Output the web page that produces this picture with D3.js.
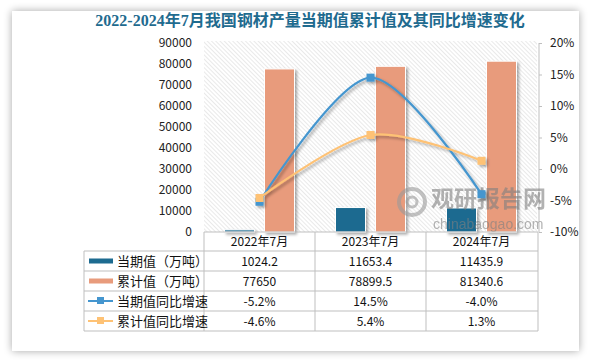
<!DOCTYPE html>
<html><head><meta charset="utf-8">
<script src="https://cdn.jsdelivr.net/npm/d3@7/dist/d3.min.js"></script>
<style>
html,body{margin:0;padding:0;background:#fff;}
svg{display:block;}
</style></head>
<body>
<svg id="chart" width="590" height="361"></svg>
<script>
const categories = ["2022年7月", "2023年7月", "2024年7月"];
const currentValues = [1024.2, 11653.4, 11435.9];
const cumulativeValues = [77650, 78899.5, 81340.6];
const currentGrowth = [-5.2, 14.5, -4.0];
const cumulativeGrowth = [-4.6, 5.4, 1.3];
const currentLabels = ["1024.2", "11653.4", "11435.9"];
const cumulativeLabels = ["77650", "78899.5", "81340.6"];
const currentGrowthLabels = ["-5.2%", "14.5%", "-4.0%"];
const cumulativeGrowthLabels = ["-4.6%", "5.4%", "1.3%"];
const leftTicks = [0, 10000, 20000, 30000, 40000, 50000, 60000, 70000, 80000, 90000];
const rightTicks = [-10, -5, 0, 5, 10, 15, 20];
const seriesNames = ["当期值（万吨）", "累计值（万吨）", "当期值同比增速", "累计值同比增速"];
const title = "2022-2024年7月我国钢材产量当期值累计值及其同比增速变化";

const C_DARK = "#1d6b90", C_ORANGE = "#e89b7c", C_BLUE = "#4596cf", C_YEL = "#fec275";
const FONT = "'Noto Sans CJK SC','Noto Sans',sans-serif";

const svg = d3.select("#chart");
const defs = svg.append("defs");

// card shadow
const cf = defs.append("filter").attr("id","cardShadow").attr("x","-10%").attr("y","-10%").attr("width","120%").attr("height","120%");
cf.append("feGaussianBlur").attr("in","SourceAlpha").attr("stdDeviation",4);
cf.append("feOffset").attr("dx",0).attr("dy",0).attr("result","b");
cf.append("feComponentTransfer").append("feFuncA").attr("type","linear").attr("slope",0.35);
const cfm = cf.append("feMerge"); cfm.append("feMergeNode"); cfm.append("feMergeNode").attr("in","SourceGraphic");

// mark shadow
const sf = defs.append("filter").attr("id","markShadow").attr("x","-30%").attr("y","-30%").attr("width","160%").attr("height","160%");
sf.append("feGaussianBlur").attr("in","SourceAlpha").attr("stdDeviation",1.8).attr("result","blur");
sf.append("feOffset").attr("in","blur").attr("dx",2).attr("dy",2).attr("result","off");
sf.append("feComponentTransfer").attr("in","off").attr("result","off2").append("feFuncA").attr("type","linear").attr("slope",0.35);
const sfm = sf.append("feMerge"); sfm.append("feMergeNode").attr("in","off2"); sfm.append("feMergeNode").attr("in","SourceGraphic");

// hatch pattern
const pat = defs.append("pattern").attr("id","hatch").attr("patternUnits","userSpaceOnUse")
  .attr("width",3).attr("height",3).attr("patternTransform","rotate(-45)");
pat.append("rect").attr("width",3).attr("height",3).attr("fill","#fff");
pat.append("line").attr("x1",0).attr("y1",0).attr("x2",0).attr("y2",3).attr("stroke","#d4d4d4").attr("stroke-width",1);

// card
svg.append("rect").attr("x",12).attr("y",11).attr("width",567).attr("height",340).attr("fill","#fff").attr("filter","url(#cardShadow)");

// title
svg.append("text").attr("x",310).attr("y",26).attr("text-anchor","middle")
  .attr("font-family","'Liberation Serif','Noto Sans CJK SC',serif").attr("font-weight","bold")
  .attr("font-size",16).attr("fill","#1f6b8f").text(title);

const plotL = 204, plotR = 537, plotT = 43, plotB = 232;
const x = d3.scaleBand().domain(categories).range([plotL, plotR]);
const inner = d3.scaleBand().domain(["cur","cum"]).range([0,70]).paddingInner(0.25);
const yL = d3.scaleLinear().domain([0, 90000]).range([plotB, plotT]);
const yR = d3.scaleLinear().domain([-10, 20]).range([plotB, plotT]);

// hatched plot area
svg.append("rect").attr("x",plotL).attr("y",plotT-2).attr("width",plotR-plotL).attr("height",plotB-plotT+2).attr("fill","url(#hatch)");

// left axis
const axL = svg.append("g").attr("transform",`translate(${plotL},0)`)
  .call(d3.axisLeft(yL).tickValues(leftTicks).tickSize(0).tickPadding(12).tickFormat(d3.format("d")));
axL.select(".domain").remove();
axL.selectAll("text").attr("font-family",FONT).attr("font-size",12).attr("fill","#222");

// right axis
const axR = svg.append("g").attr("transform",`translate(${plotR+2},0)`)
  .call(d3.axisRight(yR).tickValues(rightTicks).tickSize(3).tickPadding(8).tickFormat(d => d + "%"));
axR.select(".domain").attr("stroke","#bfbfbf").attr("d",`M0,${plotT}V${plotB}`);
axR.selectAll(".tick line").attr("stroke","#bfbfbf");
axR.selectAll("text").attr("font-family",FONT).attr("font-size",12).attr("fill","#222");

// bars
const gx = c => x(c) + (x.bandwidth() - 70) / 2;
const barG = svg.append("g").attr("filter","url(#markShadow)");
barG.selectAll(".cur").data(categories).join("rect")
  .attr("x", (c) => gx(c) + inner("cur")).attr("width", inner.bandwidth())
  .attr("y", (c,i) => yL(currentValues[i])).attr("height", (c,i) => plotB - yL(currentValues[i]))
  .attr("fill", C_DARK).attr("stroke","#fff").attr("stroke-width",1);
barG.selectAll(".cum").data(categories).join("rect")
  .attr("x", (c) => gx(c) + inner("cum")).attr("width", inner.bandwidth())
  .attr("y", (c,i) => yL(cumulativeValues[i])).attr("height", (c,i) => plotB - yL(cumulativeValues[i]))
  .attr("fill", C_ORANGE).attr("stroke","#fff").attr("stroke-width",1);

// watermark
const wm = svg.append("g").attr("opacity",0.6);
wm.append("circle").attr("cx",412).attr("cy",202).attr("r",13).attr("fill","none").attr("stroke","#9a9a9a").attr("stroke-width",4);
wm.append("circle").attr("cx",412).attr("cy",202).attr("r",5).attr("fill","none").attr("stroke","#9a9a9a").attr("stroke-width",3);
wm.append("text").attr("x",431).attr("y",207).attr("font-family",FONT).attr("font-weight","bold").attr("font-size",23).attr("fill","#808080").text("观研报告网");
wm.append("text").attr("x",433).attr("y",229).attr("font-family","'Liberation Sans',sans-serif").attr("font-size",14).attr("fill","#808080").text("chinabaogao.com");

// lines
const cx = c => x(c) + x.bandwidth()/2;
const lineGen = (arr) => d3.line().x((c)=>cx(c)).y((c,i)=>yR(arr[i])).curve(d3.curveCardinal.tension(0.1))(categories);
const lineG = svg.append("g").attr("filter","url(#markShadow)");
[[currentGrowth, C_BLUE], [cumulativeGrowth, C_YEL]].forEach(([arr,col]) => {
  lineG.append("path").attr("d", lineGen(arr)).attr("fill","none").attr("stroke",col).attr("stroke-width",2.2);
});
[[currentGrowth, C_BLUE], [cumulativeGrowth, C_YEL]].forEach(([arr,col]) => {
  lineG.selectAll(null).data(categories).join("rect")
    .attr("x", c => cx(c) - 4).attr("y", (c,i) => yR(arr[i]) - 4)
    .attr("width",8).attr("height",8).attr("fill",col);
});

// data table
const tableL = 84, headT = 232, headB = 251;
const rowsY = [251, 271, 291, 311, 331];
const tg = svg.append("g").attr("stroke","#bfbfbf").attr("stroke-width",1).attr("fill","none");
tg.append("path").attr("d",`M${plotL},${headT}H${plotR+1}`);
rowsY.forEach(y => tg.append("path").attr("d",`M${tableL},${y}H${plotR+1}`));
tg.append("path").attr("d",`M${tableL},${rowsY[0]}V${rowsY[4]}`);
categories.forEach(c => tg.append("path").attr("d",`M${x(c)},${headT}V${rowsY[4]}`));
tg.append("path").attr("d",`M${plotR+1},${headT}V${rowsY[4]}`);

const tt = svg.append("g").attr("font-family",FONT).attr("font-size",12).attr("fill","#111");
categories.forEach(c => tt.append("text").attr("x",cx(c)).attr("y",(headT+headB)/2+4.5).attr("text-anchor","middle").text(c));
const rowLabels = [currentLabels, cumulativeLabels, currentGrowthLabels, cumulativeGrowthLabels];
rowLabels.forEach((labs,r) => {
  const yc = (rowsY[r]+rowsY[r+1])/2 + 4.5;
  categories.forEach((c,i) => tt.append("text").attr("x",cx(c)).attr("y",yc).attr("text-anchor","middle").text(labs[i]));
  tt.append("text").attr("x",117).attr("y",yc).attr("font-size",13).text(seriesNames[r]);
});
// legend keys
const keyCols = [C_DARK, C_ORANGE, C_BLUE, C_YEL];
keyCols.forEach((col,r) => {
  const yc = (rowsY[r]+rowsY[r+1])/2;
  if (r < 2) {
    svg.append("rect").attr("x",89).attr("y",yc-2.5).attr("width",24).attr("height",5).attr("fill",col);
  } else {
    svg.append("line").attr("x1",88).attr("x2",113).attr("y1",yc).attr("y2",yc).attr("stroke",col).attr("stroke-width",2);
    svg.append("rect").attr("x",97).attr("y",yc-4).attr("width",7).attr("height",7).attr("fill",col);
  }
});
</script>
</body></html>
